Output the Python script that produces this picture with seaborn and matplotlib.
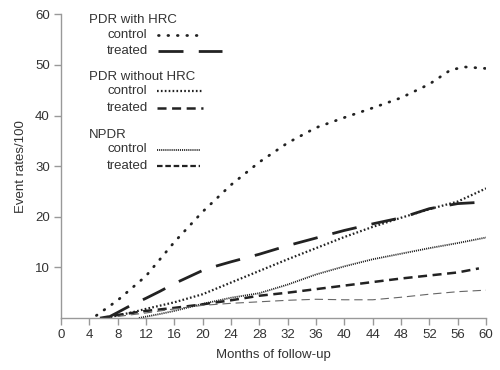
import matplotlib
matplotlib.use("Agg")
import matplotlib.pyplot as plt
import seaborn as sns
from matplotlib.lines import Line2D

# ---- data ----
m_hrc_ctrl = [5, 8, 12, 16, 20, 24, 28, 32, 36, 40, 44, 48, 52, 55, 57, 60]
v_hrc_ctrl = [0.5, 3.5, 8.3, 15.0, 21.0, 26.3, 30.8, 34.6, 37.6, 39.6, 41.5, 43.5, 46.2, 49.0, 49.6, 49.3]

m_hrc_trt = [6.5, 8, 10, 12, 14, 16, 18, 20, 22, 24, 28, 32, 36, 40, 44, 48, 52, 56, 58.5]
v_hrc_trt = [0.0, 1.1, 2.6, 3.9, 5.3, 6.8, 8.1, 9.4, 10.3, 11.1, 12.6, 14.3, 15.8, 17.3, 18.6, 19.8, 21.6, 22.6, 22.8]

m_wo_ctrl = [7, 10, 12, 16, 20, 24, 28, 32, 36, 40, 44, 48, 52, 56, 60]
v_wo_ctrl = [0.2, 1.1, 1.8, 3.1, 4.7, 7.0, 9.3, 11.6, 13.8, 16.0, 18.0, 19.8, 21.5, 23.0, 25.6]

m_wo_trt = [5.5, 8, 10, 12, 16, 20, 24, 28, 32, 36, 40, 44, 48, 52, 56, 59]
v_wo_trt = [0.0, 0.6, 1.0, 1.4, 2.0, 2.7, 3.5, 4.4, 5.0, 5.7, 6.4, 7.1, 7.8, 8.4, 9.0, 9.8]

m_np_ctrl = [11, 14, 16, 20, 24, 28, 32, 36, 40, 44, 48, 52, 56, 60]
v_np_ctrl = [0.0, 0.8, 1.4, 2.8, 4.0, 4.9, 6.6, 8.6, 10.2, 11.6, 12.7, 13.8, 14.8, 15.9]

m_np_trt = [8, 12, 16, 20, 24, 28, 32, 36, 40, 44, 48, 52, 56, 60]
v_np_trt = [0.3, 1.0, 1.8, 2.5, 2.9, 3.2, 3.5, 3.7, 3.6, 3.6, 4.1, 4.7, 5.2, 5.5]

x_ticks = list(range(0, 61, 4))
y_ticks = [10, 20, 30, 40, 50, 60]

sns.set_style("white")
plt.rcParams['font.family'] = ['Liberation Sans', 'DejaVu Sans']
plt.rcParams['lines.scale_dashes'] = False

W, H = 500, 370
fig = plt.figure(figsize=(5, 3.7), dpi=100)
ax = fig.add_axes([61 / W, 1 - 318 / H, 425 / W, (318 - 14.3) / H])

ink = '#222222'
styles = {
    'hrc_ctrl': dict(color=ink, lw=2.0, linestyle=(0, (0.5, 6.3)), dash_capstyle='round'),
    'hrc_trt': dict(color=ink, lw=2.0, linestyle=(0, (18, 11))),
    'wo_ctrl': dict(color=ink, lw=1.6, linestyle=(0, (1.2, 1.6))),
    'wo_trt': dict(color=ink, lw=1.8, linestyle=(0, (6.5, 4))),
    'np_ctrl': dict(color='#222222', lw=1.3, linestyle=(0, (0.8, 0.7))),
    'np_trt': dict(color='#666666', lw=0.8, linestyle=(0, (6, 3.5))),
}

series = [
    (m_hrc_ctrl, v_hrc_ctrl, 'hrc_ctrl'),
    (m_hrc_trt, v_hrc_trt, 'hrc_trt'),
    (m_wo_ctrl, v_wo_ctrl, 'wo_ctrl'),
    (m_wo_trt, v_wo_trt, 'wo_trt'),
    (m_np_ctrl, v_np_ctrl, 'np_ctrl'),
    (m_np_trt, v_np_trt, 'np_trt'),
]
for xs, ys, key in series:
    sns.lineplot(x=xs, y=ys, ax=ax, errorbar=None, **styles[key])

ax.set_xlim(0, 60)
ax.set_ylim(0, 60)
ax.set_xticks(x_ticks)
ax.set_xticklabels([str(t) for t in x_ticks])
ax.set_yticks(y_ticks)
ax.set_yticklabels([str(t) for t in y_ticks])

spine_c = '#999999'
for s in ['top', 'right']:
    ax.spines[s].set_visible(False)
for s in ['left', 'bottom']:
    ax.spines[s].set_color(spine_c)
    ax.spines[s].set_linewidth(1.0)
ax.tick_params(axis='both', which='major', direction='out', length=5, width=1.0,
               color=spine_c, labelsize=9.5, labelcolor='#333333', pad=3, left=True, bottom=True)
ax.set_xlabel('Months of follow-up', fontsize=9.5, color='#333333', labelpad=6)
ax.set_ylabel('Event rates/100', fontsize=9.5, color='#333333', labelpad=5.5)
ax.patch.set_alpha(0)

# ---- legend (grouped, drawn in figure pixels) ----
def fx(px):
    return px / W

def fy(py):
    return 1 - py / H

txt_kw = dict(fontsize=9.5, color='#333333', va='center', ha='left')
fig.text(fx(89), fy(20), 'PDR with HRC', **txt_kw)
fig.text(fx(107), fy(34.5), 'control', **txt_kw)
fig.text(fx(107), fy(51), 'treated', **txt_kw)
fig.text(fx(89), fy(77), 'PDR without HRC', **txt_kw)
fig.text(fx(107), fy(91), 'control', **txt_kw)
fig.text(fx(107), fy(108), 'treated', **txt_kw)
fig.text(fx(89), fy(135), 'NPDR', **txt_kw)
fig.text(fx(107), fy(149.5), 'control', **txt_kw)
fig.text(fx(107), fy(166), 'treated', **txt_kw)

leg_lines = [
    ('hrc_ctrl', 158, 200, 34.5, {}),
    ('hrc_trt', 158, 222, 51, {}),
    ('wo_ctrl', 157, 202, 91, {}),
    ('wo_trt', 157, 203, 108, {}),
    ('np_ctrl', 157, 200, 149.5, {}),
    ('np_trt', 157, 200, 166, dict(color=ink, lw=1.6, linestyle=(0, (4, 2)))),
]
for key, x0, x1, y, over in leg_lines:
    st = dict(styles[key])
    st.update(over)
    fig.add_artist(Line2D([fx(x0), fx(x1)], [fy(y), fy(y)], transform=fig.transFigure, **st))

fig.savefig('out.png', dpi=100)
